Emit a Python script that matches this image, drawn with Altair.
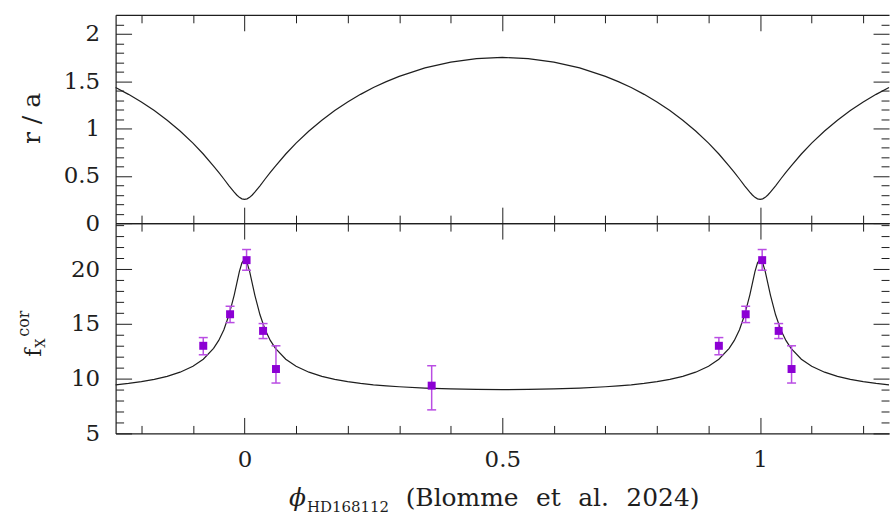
import altair as alt
import pandas as pd

# Orbital phase grid (HD 168112 ephemeris) and the two model curves
phase = [
    -0.25, -0.225, -0.2, -0.175, -0.15, -0.125, -0.1, -0.08, -0.06, -0.05, -0.04, -0.03, -0.02, -0.015, -0.01, -0.005,
    0.0, 0.005, 0.01, 0.015, 0.02, 0.03, 0.04, 0.05, 0.06, 0.08, 0.1, 0.125, 0.15, 0.175, 0.2, 0.225, 0.25, 0.275, 0.3, 0.35, 0.4, 0.45,
    0.5, 0.55, 0.6, 0.65, 0.7, 0.725, 0.75, 0.775, 0.8, 0.825, 0.85, 0.875, 0.9, 0.92, 0.94, 0.95, 0.96, 0.97, 0.98, 0.985, 0.99, 0.995,
    1.0, 1.005, 1.01, 1.015, 1.02, 1.03, 1.04, 1.05, 1.06, 1.08, 1.1, 1.125, 1.15, 1.175, 1.2, 1.225, 1.25,
]
r_over_a = [
    1.432, 1.360, 1.280, 1.189, 1.087, 0.973, 0.845, 0.730, 0.603, 0.536, 0.466, 0.394, 0.327, 0.297, 0.272, 0.256,
    0.250, 0.256, 0.272, 0.297, 0.327, 0.394, 0.466, 0.536, 0.603, 0.730, 0.845, 0.973, 1.087, 1.189, 1.280, 1.360, 1.432, 1.494, 1.550, 1.639, 1.701, 1.738,
    1.750, 1.738, 1.701, 1.639, 1.550, 1.494, 1.432, 1.360, 1.280, 1.189, 1.087, 0.973, 0.845, 0.730, 0.603, 0.536, 0.466, 0.394, 0.327, 0.297, 0.272, 0.256,
    0.250, 0.256, 0.272, 0.297, 0.327, 0.394, 0.466, 0.536, 0.603, 0.730, 0.845, 0.973, 1.087, 1.189, 1.280, 1.360, 1.432,
]
fx_model = [
    9.44, 9.57, 9.73, 9.94, 10.21, 10.59, 11.13, 11.77, 12.77, 13.49, 14.47, 15.83, 17.63, 18.70, 19.78, 20.57,
    20.90, 20.57, 19.78, 18.70, 17.63, 15.83, 14.47, 13.49, 12.77, 11.77, 11.13, 10.59, 10.21, 9.94, 9.73, 9.57, 9.44, 9.34, 9.26, 9.14, 9.06, 9.02,
    9.00, 9.02, 9.06, 9.14, 9.26, 9.34, 9.44, 9.57, 9.73, 9.94, 10.21, 10.59, 11.13, 11.77, 12.77, 13.49, 14.47, 15.83, 17.63, 18.70, 19.78, 20.57,
    20.90, 20.57, 19.78, 18.70, 17.63, 15.83, 14.47, 13.49, 12.77, 11.77, 11.13, 10.59, 10.21, 9.94, 9.73, 9.57, 9.44,
]

# Corrected X-ray fluxes with their error ranges
obs_phase = [-0.080, -0.028, 0.004, 0.036, 0.061, 0.363, 0.920, 0.972, 1.004, 1.036, 1.061]
obs_fx = [13.0, 15.88, 20.82, 14.36, 10.88, 9.36, 13.0, 15.88, 20.82, 14.36, 10.88]
obs_lo = [12.18, 15.12, 19.90, 13.66, 9.60, 7.15, 12.18, 15.12, 19.90, 13.66, 9.60]
obs_hi = [13.75, 16.61, 21.79, 15.03, 13.00, 11.18, 13.75, 16.61, 21.79, 15.03, 13.00]

# Tick positions
x_major = [0, 0.5, 1]
x_minor = [-0.2, -0.1, 0.1, 0.2, 0.3, 0.4, 0.6, 0.7, 0.8, 0.9, 1.1, 1.2]
r_major = [0, 0.5, 1, 1.5, 2]
r_minor = [0.1, 0.2, 0.3, 0.4, 0.6, 0.7, 0.8, 0.9, 1.1, 1.2, 1.3, 1.4, 1.6, 1.7, 1.8, 1.9, 2.1]
fx_major = [5, 10, 15, 20]
fx_minor = [6, 7, 8, 9, 11, 12, 13, 14, 16, 17, 18, 19, 21, 22, 23, 24]

FONT = "DejaVu Serif"
INK = "#1e1e1e"
PURPLE = "#8c00d4"
BAR = "#b94de3"
W = 776
H_TOP = 209
H_BOT = 211
MAJOR = 16
MINOR = 8

curve = pd.DataFrame({"phase": phase, "r": r_over_a, "fx": fx_model})
obs = pd.DataFrame({"phase": obs_phase, "fx": obs_fx, "lo": obs_lo, "hi": obs_hi})

x_scale = alt.Scale(domain=[-0.25, 1.25], nice=False, zero=False)
r_scale = alt.Scale(domain=[0, 2.2], nice=False, zero=False)
fx_scale = alt.Scale(domain=[5, 24.2], nice=False, zero=False)


def tick_axis(orient, offset, values, size, domain=False):
    return alt.Axis(orient=orient, offset=offset, values=values, tickSize=size,
                    ticks=True, labels=False, domain=domain, grid=False, title=None,
                    tickColor=INK, tickWidth=1, domainColor=INK, domainWidth=1.2)


def frame_layers(yfield, y_scale, y_major, y_minor, h):
    """Inward-pointing major/minor ticks on all four sides, plus the top edge."""
    specs = [
        (tick_axis("bottom", -h, x_major, MAJOR, domain=True), tick_axis("right", -W, y_major, MAJOR)),
        (tick_axis("bottom", -h, x_minor, MINOR), tick_axis("right", -W, y_minor, MINOR)),
        (tick_axis("top", -h, x_major, MAJOR), tick_axis("left", -W, y_major, MAJOR)),
        (tick_axis("top", -h, x_minor, MINOR), tick_axis("left", -W, y_minor, MINOR)),
    ]
    return [
        alt.Chart(curve).mark_line(strokeOpacity=0).encode(
            x=alt.X("phase:Q", scale=x_scale, axis=xa),
            y=alt.Y(f"{yfield}:Q", scale=y_scale, axis=ya),
        )
        for xa, ya in specs
    ]


def label_axis(orient, values, show_labels=True):
    return alt.Axis(orient=orient, values=values, ticks=False, tickSize=0, labels=show_labels,
                    format="~g", labelFont=FONT, labelFontSize=23, labelColor=INK,
                    labelPadding=16 if orient == "left" else 15, labelFlush=False,
                    labelOverlap=False, domain=True, domainColor=INK, domainWidth=1.2,
                    grid=False, title=None)


def text(t, x, y, size, angle=0, style="normal"):
    return alt.Chart(alt.Data(values=[{}])).mark_text(
        text=t, font=FONT, fontSize=size, fontStyle=style, color=INK,
        align="left", baseline="alphabetic", angle=angle,
    ).encode(x=alt.value(x), y=alt.value(y))


# Upper panel: separation r/a along the orbit
top_line = alt.Chart(curve).mark_line(color=INK, strokeWidth=1.2).encode(
    x=alt.X("phase:Q", scale=x_scale, axis=label_axis("bottom", x_major, show_labels=False)),
    y=alt.Y("r:Q", scale=r_scale, axis=label_axis("left", r_major)),
)
top_title = alt.Chart(alt.Data(values=[{}])).mark_text(
    text="r / a", font=FONT, fontSize=25, color=INK, align="center",
    baseline="alphabetic", angle=270,
).encode(x=alt.value(-76), y=alt.value(104))

top = alt.layer(top_line, *frame_layers("r", r_scale, r_major, r_minor, H_TOP), top_title).resolve_axis(
    x="independent", y="independent").properties(width=W, height=H_TOP)

# Lower panel: corrected X-ray flux with model
bot_line = alt.Chart(curve).mark_line(color=INK, strokeWidth=1.2).encode(
    x=alt.X("phase:Q", scale=x_scale, axis=label_axis("bottom", x_major)),
    y=alt.Y("fx:Q", scale=fx_scale, axis=label_axis("left", fx_major)),
)
bars = alt.Chart(obs).mark_rule(color=BAR, strokeWidth=1.5).encode(
    x=alt.X("phase:Q", scale=x_scale, axis=None),
    y=alt.Y("lo:Q", scale=fx_scale, axis=None),
    y2="hi:Q",
)
cap_lo = alt.Chart(obs).mark_tick(color=BAR, orient="horizontal", size=9, thickness=1.5, opacity=1).encode(
    x=alt.X("phase:Q", scale=x_scale, axis=None),
    y=alt.Y("lo:Q", scale=fx_scale, axis=None),
)
cap_hi = alt.Chart(obs).mark_tick(color=BAR, orient="horizontal", size=9, thickness=1.5, opacity=1).encode(
    x=alt.X("phase:Q", scale=x_scale, axis=None),
    y=alt.Y("hi:Q", scale=fx_scale, axis=None),
)
points = alt.Chart(obs).mark_square(color=PURPLE, size=64, opacity=1).encode(
    x=alt.X("phase:Q", scale=x_scale, axis=None),
    y=alt.Y("fx:Q", scale=fx_scale, axis=None),
)

bot_texts = [
    text("ϕ", 174, 284, 25, style="italic"),
    text("HD168112", 192, 290, 15),
    text("(Blomme\u2002\u2009et\u2002\u2009al.\u2002\u20092024)", 291, 284, 25),
    text("f", -75, 134, 22, angle=270),
    text("X", -71, 125, 13, angle=270),
    text("cor", -87, 114, 16, angle=270),
]

bottom = alt.layer(bot_line, *frame_layers("fx", fx_scale, fx_major, fx_minor, H_BOT),
                   bars, cap_lo, cap_hi, points, *bot_texts).resolve_axis(
    x="independent", y="independent").properties(width=W, height=H_BOT)

chart = alt.vconcat(top, bottom, spacing=0, bounds="flush").configure_view(stroke=None).properties(
    padding={"left": 16, "top": 13, "right": 0, "bottom": 4},
    background="white",
)

chart.save("out.html", embed_options={"renderer": "svg", "actions": False})
